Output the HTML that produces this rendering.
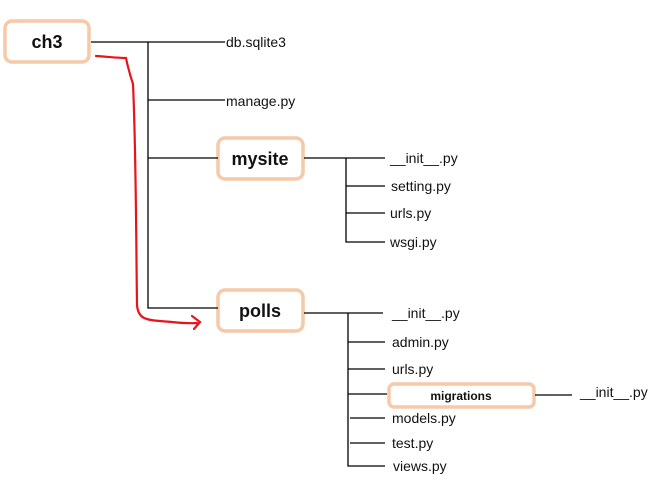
<!DOCTYPE html>
<html><head><style>
body{margin:0;background:#fff;}
svg text{font-family:"Liberation Sans",sans-serif;fill:#111;}
</style></head><body>
<svg width="657" height="496" xmlns="http://www.w3.org/2000/svg">
<g fill="#fff" stroke="#f6c9a8" stroke-width="3.5">
<rect x="5" y="21" width="84" height="41" rx="7"/>
<rect x="218" y="138" width="85" height="41" rx="7"/>
<rect x="218" y="290" width="85" height="41" rx="7"/>
<rect x="389" y="384" width="145" height="23" rx="5"/>
</g>
<g stroke="#000" stroke-width="1.3" fill="none">
<path d="M91 42H225M148 42V308H218M148 100H225M148 158H218"/>
<path d="M304 158H385M346 158V242H385M346 186H385M346 213H385"/>
<path d="M304 313H383M348 313V466H385M348 342H385M348 369H385M348 394H387M350 418H385M350 443H385"/>
<path d="M535 395H572"/>
</g>
<path d="M96 56 C110 57 118 58 126 58 C128 68 130 75 133 84 C136 150 136 230 137 305 C138 318 145 320 160 321 C175 322 185 324 197 323 M192 316 L200 322 L194 329" stroke="#e8141a" stroke-width="2.2" fill="none" stroke-linecap="round"/>
<g font-size="14">
<text x="226" y="47">db.sqlite3</text>
<text x="226" y="106">manage.py</text>
<text x="390" y="163">__init__.py</text>
<text x="391" y="191">setting.py</text>
<text x="390" y="218">urls.py</text>
<text x="390" y="247">wsgi.py</text>
<text x="392" y="318">__init__.py</text>
<text x="392" y="347">admin.py</text>
<text x="392" y="374">urls.py</text>
<text x="392" y="423">models.py</text>
<text x="392" y="448">test.py</text>
<text x="393" y="471">views.py</text>
<text x="580" y="397">__init__.py</text>
</g>
<g font-weight="bold" text-anchor="middle">
<text x="47" y="48" font-size="18">ch3</text>
<text x="260" y="165" font-size="18">mysite</text>
<text x="260" y="317" font-size="18">polls</text>
<text x="461" y="400" font-size="12">migrations</text>
</g>
</svg>
</body></html>
